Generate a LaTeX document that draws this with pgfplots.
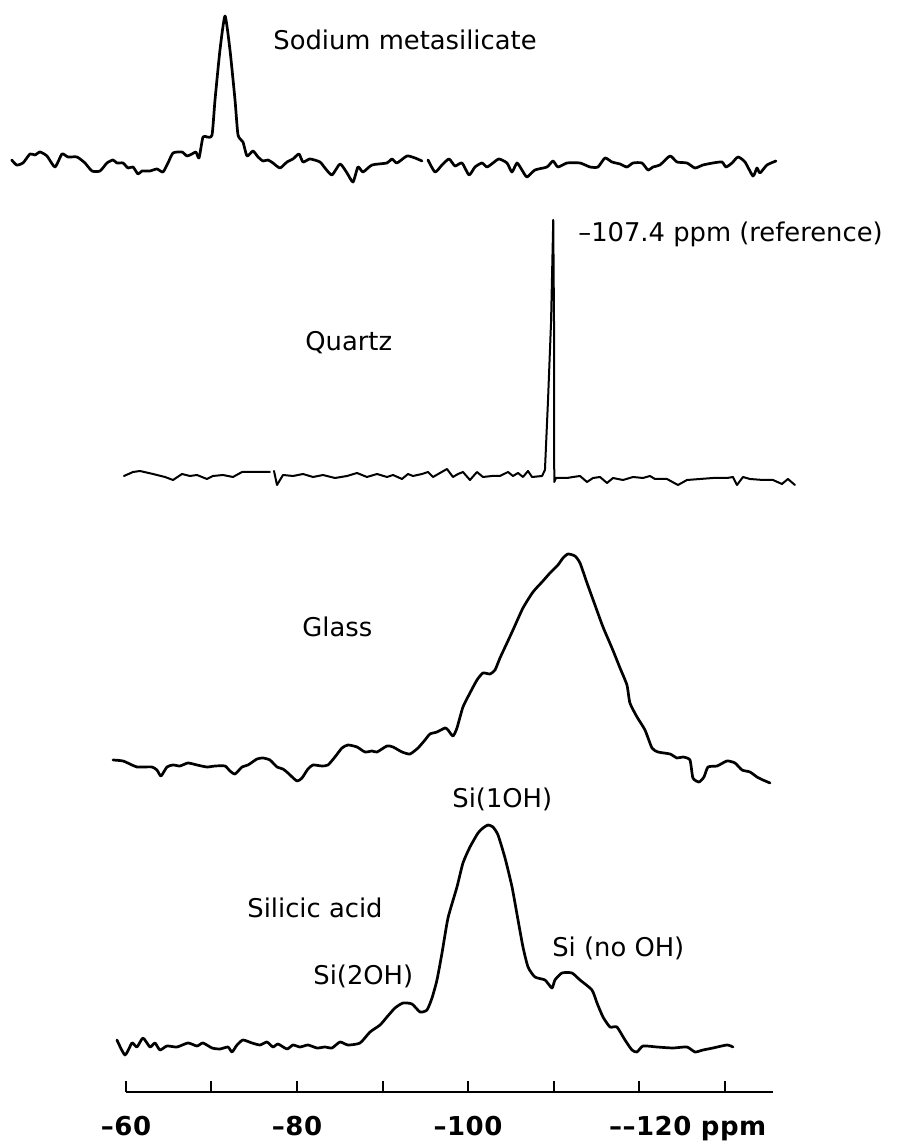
\documentclass[border=0pt]{standalone}
\usepackage{fontspec}
\setmainfont{DejaVu Sans}
\usepackage{pgfplots}
\pgfplotsset{compat=1.18}
\newcommand\lab{\fontsize{12.9}{15}\selectfont}
\begin{document}
\begin{tikzpicture}
\begin{axis}[at={(0,0)}, anchor=south west, width=449.5pt, height=573pt, scale only axis,
  x dir=reverse, xmin=-150.41, xmax=-45.26, ymin=0, ymax=1146, hide axis, clip=false,
  spec/.style={black, solid, line width=1.35pt, line join=round, line cap=round, mark=none},
  sm/.style={smooth, tension=0.35}]
% Sodium metasilicate
\addplot[spec, sm] coordinates {(-46.63,986) (-47.21,981) (-47.95,983) (-48.77,992) (-49.35,991) (-49.94,994) (-50.76,990) (-51.69,979) (-52.51,992) (-53.21,989) (-54.27,989) (-55.20,983) (-56.02,975) (-56.96,975) (-57.77,983) (-58.48,986) (-58.94,983) (-59.65,983) (-60.23,978) (-60.82,979) (-61.40,972) (-61.87,975) (-62.80,975) (-63.62,977) (-64.32,974) (-64.91,983) (-65.50,993) (-66.55,994) (-67.13,990) (-67.72,992) (-68.18,994) (-68.54,988) (-69.00,1009) (-69.47,1009) (-70.06,1011) (-70.41,1046) (-70.99,1096) (-71.58,1130) (-72.16,1096) (-72.75,1046) (-73.10,1011) (-73.68,1004) (-74.15,990) (-74.85,995) (-75.44,989) (-76.02,985) (-76.61,986) (-77.19,983) (-78.01,978) (-78.83,984) (-79.53,987) (-80.23,992) (-80.70,984) (-81.52,987) (-82.69,984) (-83.27,978) (-84.09,971) (-85.03,982) (-85.85,973) (-86.55,964) (-87.13,979) (-87.72,974) (-88.77,981) (-90.52,983) (-91.11,987) (-91.69,983) (-92.86,990) (-93.80,988) (-94.62,985)};
\addplot[spec, sm] coordinates {(-95.32,986) (-96.14,974) (-96.96,981) (-97.78,987) (-98.48,980) (-99.30,983) (-100.12,971) (-100.82,979) (-101.64,983) (-102.22,979) (-102.92,983) (-103.62,987) (-104.56,983) (-105.14,974) (-105.73,983) (-106.31,976) (-106.90,969) (-107.83,976) (-109.24,979) (-109.94,985) (-110.52,979) (-111.58,983) (-113.10,983) (-114.27,979) (-115.20,979) (-116.02,988) (-116.84,984) (-117.78,982) (-118.59,979) (-119.30,983) (-120.35,983) (-121.05,976) (-121.64,979) (-122.45,981) (-123.63,990) (-124.44,984) (-125.61,983) (-126.55,978) (-127.48,981) (-128.65,983) (-129.71,984) (-130.17,979) (-130.88,983) (-131.58,989) (-132.40,984) (-133.33,970) (-133.80,978) (-134.15,973) (-134.97,981) (-136.02,985)};
% Quartz
\addplot[spec, line width=1pt] coordinates {(-59.76,670) (-60.82,674) (-61.63,675) (-63.16,672) (-64.56,669) (-65.50,666) (-66.55,672) (-67.48,670) (-68.30,671) (-69.47,667) (-70.17,670) (-71.34,671) (-72.51,669) (-73.57,674) (-74.85,674) (-76.84,674)};
\addplot[spec, line width=1pt] coordinates {(-77.31,675) (-77.66,661) (-78.36,671) (-79.53,670) (-80.70,672) (-81.87,669) (-83.04,671) (-84.44,668) (-85.85,670) (-87.02,673) (-88.18,669) (-89.36,672) (-90.52,669) (-91.23,671) (-92.28,667) (-92.98,672) (-93.57,670) (-94.62,672) (-95.32,674) (-95.91,669) (-96.72,673) (-97.54,677) (-98.24,669) (-98.83,672) (-99.41,674) (-100.23,666) (-101.05,674) (-101.75,669) (-102.80,670) (-103.74,670) (-104.68,674) (-105.26,670) (-105.85,673) (-106.43,669) (-107.02,675) (-107.49,669) (-108.66,670) (-109.00,676) (-109.36,746) (-109.71,823) (-109.97,926) (-110.06,823) (-110.09,664) (-110.29,668) (-111.58,668) (-112.28,669) (-113.10,670) (-113.92,664) (-114.62,668) (-115.44,669) (-116.26,663) (-116.96,668) (-118.13,666) (-119.30,669) (-120.47,668) (-121.28,670) (-121.87,667) (-123.27,667) (-124.56,661) (-125.61,666) (-127.13,667) (-128.65,668) (-130.29,668) (-130.99,669) (-131.46,661) (-132.16,669) (-132.98,667) (-134.50,666) (-135.67,666) (-136.72,662) (-137.42,667) (-138.24,661)};
% Glass
\addplot[spec, sm] coordinates {(-58.48,386) (-59.65,385) (-60.70,381) (-61.28,379) (-61.99,379) (-63.04,379) (-63.62,376) (-64.09,370) (-64.79,379) (-65.50,381) (-66.31,380) (-67.25,383) (-68.30,381) (-69.47,379) (-70.41,380) (-71.58,380) (-72.16,375) (-72.75,372) (-73.57,379) (-74.27,381) (-75.32,387) (-76.02,388) (-76.84,386) (-77.66,379) (-78.36,377) (-78.94,373) (-79.99,365) (-80.58,368) (-81.28,377) (-81.87,381) (-82.92,380) (-83.62,381) (-84.44,389) (-85.26,398) (-85.96,401) (-87.02,399) (-87.95,394) (-88.77,395) (-89.36,394) (-90.52,400) (-91.23,399) (-92.28,394) (-93.21,392) (-94.15,398) (-94.97,406) (-95.55,412) (-96.37,414) (-97.31,418) (-97.66,416) (-98.24,410) (-98.71,418) (-99.41,439) (-100.23,453) (-101.05,466) (-101.75,473) (-102.57,472) (-103.16,476) (-103.74,488) (-104.56,503) (-105.26,516) (-106.43,538) (-107.60,554) (-108.66,564) (-109.59,573) (-110.52,581) (-111.11,588) (-111.70,592) (-112.51,590) (-113.10,583) (-113.92,563) (-114.85,541) (-115.79,519) (-116.84,498) (-117.78,478) (-118.59,461) (-118.94,443) (-119.77,429) (-120.70,416) (-121.52,398) (-122.22,394) (-123.63,392) (-124.44,388) (-125.15,389) (-125.96,386) (-126.31,368) (-127.02,364) (-127.60,369) (-128.07,379) (-129.13,380) (-130.29,385) (-131.23,383) (-132.05,376) (-132.98,374) (-133.80,369) (-134.50,366) (-135.32,363)};
% Silicic acid
\addplot[spec, sm] coordinates {(-58.94,106) (-59.88,91) (-60.70,103) (-61.28,99) (-61.99,108) (-62.80,99) (-63.39,103) (-63.97,96) (-64.79,100) (-65.96,99) (-67.25,103) (-68.30,100) (-69.00,103) (-70.06,98) (-70.99,97) (-71.93,99) (-72.40,94) (-72.98,101) (-73.68,106) (-74.74,103) (-75.67,101) (-76.49,104) (-77.19,99) (-77.78,102) (-78.83,97) (-79.53,101) (-80.35,99) (-81.28,101) (-82.34,98) (-83.27,99) (-84.09,98) (-85.03,104) (-85.96,101) (-87.37,103) (-88.54,114) (-89.71,121) (-90.52,129) (-91.46,138) (-92.40,143) (-93.45,142) (-94.39,134) (-95.20,136) (-95.79,148) (-96.37,166) (-96.96,193) (-97.66,228) (-98.71,259) (-99.41,283) (-100.23,299) (-101.17,313) (-101.75,318) (-102.34,321) (-102.92,319) (-103.51,311) (-104.33,288) (-105.15,259) (-105.85,226) (-106.43,199) (-107.02,179) (-107.83,169) (-109.00,166) (-109.82,158) (-110.17,166) (-110.99,173) (-112.16,173) (-113.10,166) (-114.50,156) (-115.09,143) (-115.79,129) (-116.61,119) (-117.42,119) (-118.36,106) (-119.18,96) (-119.77,94) (-120.47,100) (-122.10,99) (-123.97,98) (-125.61,99) (-126.55,94) (-127.48,96) (-128.65,98) (-130.29,101) (-130.99,99)};
% labels
\node[anchor=base west, inner sep=0pt, font=\lab] at (axis cs:-77.19,1096) {Sodium metasilicate};
\node[anchor=base west, inner sep=0pt, font=\lab] at (axis cs:-80.93,795) {Quartz};
\node[anchor=base west, inner sep=0pt, font=\lab] at (axis cs:-112.86,904) {\textendash107.4 ppm (reference)};
\node[anchor=base west, inner sep=0pt, font=\lab] at (axis cs:-80.58,509) {Glass};
\node[anchor=base west, inner sep=0pt, font=\lab] at (axis cs:-98.13,338) {Si(1OH)};
\node[anchor=base west, inner sep=0pt, font=\lab] at (axis cs:-74.15,228) {Silicic acid};
\node[anchor=base west, inner sep=0pt, font=\lab] at (axis cs:-81.87,161) {Si(2OH)};
\node[anchor=base west, inner sep=0pt, font=\lab] at (axis cs:-109.82,189) {Si (no OH)};
\end{axis}
\begin{axis}[at={(63pt,27pt)}, anchor=south west, width=323.5pt, height=20pt, scale only axis,
  x dir=reverse, xmin=-135.67, xmax=-60, ymin=0, ymax=1,
  axis x line*=bottom, hide y axis,
  axis line style={line width=1pt, black},
  xtick={-60,-70,...,-130}, xtick align=inside, major tick length=5.5pt,
  xtick style={line width=1pt, black},
  xticklabels={\textendash60,,\textendash80,,\textendash100,,{\makebox[0pt][l]{\hspace*{-15pt}\textendash\textendash120 ppm}},},
  xticklabel style={anchor=base, yshift=-21.5pt, font=\fontsize{13}{15}\selectfont\bfseries\addfontfeature{LetterSpace=2}}]
\addplot[draw=none] coordinates {(-60,0) (-130,0)};
\end{axis}
\pgfresetboundingbox
\path[use as bounding box] (0,0) rectangle (449.5pt,573pt);
\end{tikzpicture}
\end{document}
